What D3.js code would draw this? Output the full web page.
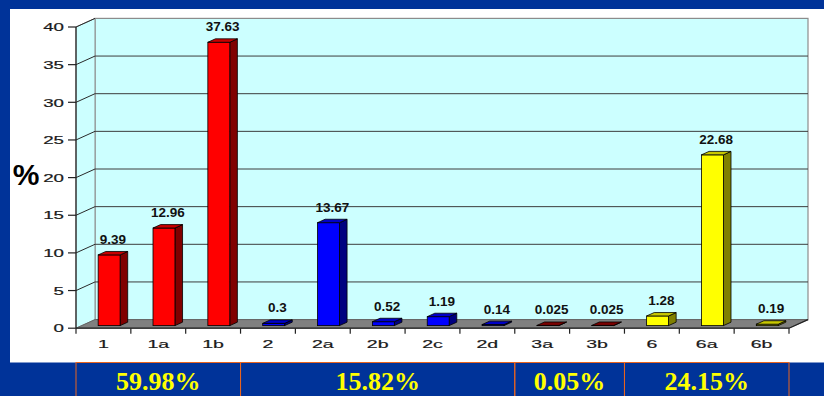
<!DOCTYPE html>
<html>
<head>
<meta charset="utf-8">
<script src="https://cdn.jsdelivr.net/npm/d3@7/dist/d3.min.js"></script>
<style>
  html, body { margin: 0; padding: 0; background: #003399; }
  svg { display: block; }
</style>
</head>
<body>
<svg id="chart" width="824" height="396"></svg>
<script>
// Share of each category (%)
const categories = ["1", "1a", "1b", "2", "2a", "2b", "2c", "2d", "3a", "3b", "6", "6a", "6b"];
const values = [9.39, 12.96, 37.63, 0.3, 13.67, 0.52, 1.19, 0.14, 0.025, 0.025, 1.28, 22.68, 0.19];
const valueLabels = ["9.39", "12.96", "37.63", "0.3", "13.67", "0.52", "1.19", "0.14", "0.025", "0.025", "1.28", "22.68", "0.19"];
const groupOf = ["1", "1", "1", "2", "2", "2", "2", "2", "3", "3", "6", "6", "6"];
const yTicks = [0, 5, 10, 15, 20, 25, 30, 35, 40];
// Group totals shown in the table under the chart
const groups = ["1", "2", "3", "6"];
const groupTotals = ["59.98%", "15.82%", "0.05%", "24.15%"];

const palette = {
  "1": { front: "#ff0000", top: "#c80000", side: "#800000" },
  "2": { front: "#0000ff", top: "#0000c8", side: "#000080" },
  "3": { front: "#800000", top: "#7a0000", side: "#400000" },
  "6": { front: "#ffff00", top: "#c8c800", side: "#808000" }
};

const svg = d3.select("#chart");

// white slide panel
svg.append("rect").attr("x", 10).attr("y", 9).attr("width", 814).attr("height", 353.5).attr("fill", "#ffffff");

// 3D frame geometry
const depthX = 19, depthY = -8.6;
const x = d3.scaleBand().domain(categories).range([76, 789]).padding(0);
const y = d3.scaleLinear().domain([0, 40]).range([328.2, 27]);
const y0 = y(0);
const xL = x.range()[0], xR = x.range()[1];

const g = svg.append("g");

// back wall
g.append("rect")
  .attr("x", xL + depthX).attr("y", y(40) + depthY)
  .attr("width", xR - xL).attr("height", y0 - y(40))
  .attr("fill", "#ccffff").attr("stroke", "#8c8c8c").attr("stroke-width", 1.2);

// side wall
g.append("path")
  .attr("d", `M${xL},${y0}L${xL + depthX},${y0 + depthY}L${xL + depthX},${y(40) + depthY}L${xL},${y(40)}Z`)
  .attr("fill", "#ccffff").attr("stroke", "#8c8c8c").attr("stroke-width", 1);

// gridlines on back wall and side wall
const inner = yTicks.filter(t => t > 0 && t < 40);
g.selectAll("line.grid").data(inner).join("line")
  .attr("class", "grid")
  .attr("x1", xL + depthX).attr("x2", xR + depthX)
  .attr("y1", d => y(d) + depthY).attr("y2", d => y(d) + depthY)
  .attr("stroke", "#3c3c3c").attr("stroke-width", 1);
g.selectAll("line.sgrid").data(yTicks.filter(t => t > 0)).join("line")
  .attr("class", "sgrid")
  .attr("x1", xL).attr("x2", xL + depthX)
  .attr("y1", d => y(d)).attr("y2", d => y(d) + depthY)
  .attr("stroke", "#2a2a2a").attr("stroke-width", 1);

// floor
g.append("path")
  .attr("d", `M${xL},${y0}L${xR},${y0}L${xR + depthX},${y0 + depthY}L${xL + depthX},${y0 + depthY}Z`)
  .attr("fill", "#808080").attr("stroke", "#5a5a5a").attr("stroke-width", 0.8);
g.append("path")
  .attr("d", `M${xL},${y0}L${xR},${y0}L${xR + depthX},${y0 + depthY}`)
  .attr("fill", "none").attr("stroke", "#222").attr("stroke-width", 1.2);

// value axis
g.append("line").attr("x1", xL).attr("x2", xL).attr("y1", y(40)).attr("y2", y0)
  .attr("stroke", "#222").attr("stroke-width", 1.2);
g.selectAll("line.ytick").data(yTicks).join("line")
  .attr("class", "ytick")
  .attr("x1", xL - 8).attr("x2", xL)
  .attr("y1", d => y(d)).attr("y2", d => y(d))
  .attr("stroke", "#222").attr("stroke-width", 1.2);
g.selectAll("text.ylab").data(yTicks).join("text")
  .attr("class", "ylab")
  .attr("transform", d => `translate(${xL - 12},${y(d) + 4.2}) scale(1.7,1)`)
  .attr("text-anchor", "end")
  .attr("font-family", "Liberation Sans, Arial, sans-serif")
  .attr("font-size", 11)
  .attr("fill", "#1a1a1a")
  .attr("stroke", "#1a1a1a").attr("stroke-width", 0.2)
  .text(d => d);

// category axis ticks
const bounds = categories.map(c => x(c)).concat([xR]);
g.selectAll("line.xtick").data(bounds).join("line")
  .attr("class", "xtick")
  .attr("x1", d => d).attr("x2", d => d)
  .attr("y1", y0).attr("y2", y0 + 5.5)
  .attr("stroke", "#222").attr("stroke-width", 1.2);
g.selectAll("text.xlab").data(categories).join("text")
  .attr("class", "xlab")
  .attr("transform", d => `translate(${x(d) + x.bandwidth() / 2},${y0 + 19.5}) scale(1.7,1)`)
  .attr("text-anchor", "middle")
  .attr("font-family", "Liberation Sans, Arial, sans-serif")
  .attr("font-size", 11.5)
  .attr("fill", "#1a1a1a")
  .attr("stroke", "#1a1a1a").attr("stroke-width", 0.2)
  .text(d => d);

// axis title
svg.append("text")
  .attr("x", 26).attr("y", 185)
  .attr("text-anchor", "middle")
  .attr("font-family", "Liberation Sans, Arial, sans-serif")
  .attr("font-weight", "bold")
  .attr("font-size", 30)
  .attr("fill", "#000")
  .text("%");

// bars: front face, side and top, placed at the middle of the depth
const barW = x.bandwidth() * 0.4;
const bOffX = depthX * 0.3, bOffY = depthY * 0.3;
const bDX = depthX * 0.4, bDY = depthY * 0.4;
const bars = categories.map((c, i) => {
  const cx = x(c) + x.bandwidth() / 2 + bOffX;
  return {
    c, v: values[i], label: valueLabels[i], grp: groupOf[i],
    x0: cx - barW / 2, x1: cx + barW / 2,
    yb: y0 + bOffY, yt: y(values[i]) + bOffY
  };
});
const bg = g.append("g");
bars.forEach(b => {
  const col = palette[b.grp];
  const bar = bg.append("g");
  bar.append("path")
    .attr("d", `M${b.x1},${b.yb}L${b.x1 + bDX},${b.yb + bDY}L${b.x1 + bDX},${b.yt + bDY}L${b.x1},${b.yt}Z`)
    .attr("fill", col.side).attr("stroke", "#000").attr("stroke-width", 0.8).attr("stroke-linejoin", "round");
  bar.append("rect")
    .attr("x", b.x0).attr("y", b.yt).attr("width", b.x1 - b.x0).attr("height", Math.max(0, b.yb - b.yt))
    .attr("fill", col.front).attr("stroke", "#000").attr("stroke-width", 0.8);
  bar.append("path")
    .attr("d", `M${b.x0},${b.yt}L${b.x1},${b.yt}L${b.x1 + bDX},${b.yt + bDY}L${b.x0 + bDX},${b.yt + bDY}Z`)
    .attr("fill", col.top).attr("stroke", "#000").attr("stroke-width", 0.8).attr("stroke-linejoin", "round");
  bar.append("text")
    .attr("transform", `translate(${(b.x0 + b.x1) / 2 + bDX / 2},${b.yt + bDY - 7.5}) scale(1.08,1)`)
    .attr("text-anchor", "middle")
    .attr("font-family", "Liberation Sans, Arial, sans-serif")
    .attr("font-weight", "bold")
    .attr("font-size", 12.5)
    .attr("fill", "#111")
    .text(b.label);
});

// group totals table
const cells = groups.map((grp, k) => {
  const idx = groupOf.map((d, i) => d === grp ? i : -1).filter(i => i >= 0);
  const left = x(categories[idx[0]]);
  const right = x(categories[idx[idx.length - 1]]) + x.bandwidth();
  return { grp, total: groupTotals[k], left, right };
});
const tg = svg.append("g");
tg.selectAll("rect").data(cells).join("rect")
  .attr("x", d => d.left).attr("y", 362.5)
  .attr("width", d => d.right - d.left).attr("height", 40)
  .attr("fill", "none").attr("stroke", "#e8641e").attr("stroke-width", 1);
tg.selectAll("text").data(cells).join("text")
  .attr("x", d => (d.left + d.right) / 2).attr("y", 390.2)
  .attr("text-anchor", "middle")
  .attr("font-family", "Liberation Serif, 'Times New Roman', serif")
  .attr("font-weight", "bold")
  .attr("font-size", 26)
  .attr("fill", "#ffff00")
  .text(d => d.total);
</script>
</body>
</html>
